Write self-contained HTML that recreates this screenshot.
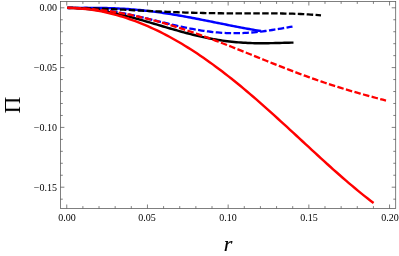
<!DOCTYPE html>
<html><head><meta charset="utf-8"><style>
html,body{margin:0;padding:0;background:#fff;}
body{width:399px;height:256px;position:relative;overflow:hidden;font-family:"Liberation Serif",serif;color:#000;}
.xl,.yl,.pi,.r{will-change:transform;}
.xl{position:absolute;top:211.6px;width:40px;text-align:center;font-size:10px;line-height:12px;}
.yl{position:absolute;left:0.5px;width:56px;text-align:right;font-size:10px;line-height:14px;}
.pi{position:absolute;left:-2.6px;top:90.2px;width:30px;height:30px;font-size:24px;line-height:30px;text-align:center;transform:rotate(-90deg) scaleX(0.97);}
.r{position:absolute;left:213.2px;top:230.5px;width:30px;font-size:22px;line-height:26px;text-align:center;font-style:italic;-webkit-text-stroke:0.15px #000;}
</style></head><body>
<svg width="399" height="256" viewBox="0 0 399 256" style="position:absolute;left:0;top:0"><path d="M67.30,7.90 L69.26,7.90 L71.21,7.89 L73.17,7.88 L75.13,7.88 L77.08,7.87 L79.04,7.86 L81.00,7.85 L82.95,7.85 L84.91,7.84 L86.87,7.84 L88.82,7.85 L90.78,7.85 L92.74,7.86 L94.69,7.87 L96.65,7.89 L98.61,7.92 L100.56,7.95 L102.52,7.98 L104.47,8.02 L106.43,8.07 L108.39,8.12 L110.34,8.19 L112.30,8.25 L114.26,8.33 L116.21,8.41 L118.17,8.51 L120.13,8.61 L122.08,8.71 L124.04,8.83 L126.00,8.95 L127.95,9.09 L129.91,9.23 L131.87,9.38 L133.82,9.54 L135.78,9.71 L137.74,9.88 L139.69,10.07 L141.65,10.26 L143.61,10.46 L145.56,10.67 L147.52,10.89 L149.48,11.12 L151.43,11.35 L153.39,11.60 L155.35,11.85 L157.30,12.11 L159.26,12.38 L161.22,12.65 L163.17,12.94 L165.13,13.23 L167.08,13.52 L169.04,13.83 L171.00,14.14 L172.95,14.46 L174.91,14.78 L176.87,15.11 L178.82,15.45 L180.78,15.79 L182.74,16.13 L184.69,16.49 L186.65,16.84 L188.61,17.21 L190.56,17.57 L192.52,17.94 L194.48,18.32 L196.43,18.69 L198.39,19.07 L200.35,19.46 L202.30,19.84 L204.26,20.23 L206.22,20.62 L208.17,21.01 L210.13,21.41 L212.09,21.80 L214.04,22.19 L216.00,22.59 L217.96,22.98 L219.91,23.38 L221.87,23.77 L223.83,24.17 L225.78,24.56 L227.74,24.95 L229.69,25.34 L231.65,25.73 L233.61,26.11 L235.56,26.49 L237.52,26.87 L239.48,27.25 L241.43,27.62 L243.39,27.98 L245.35,28.35 L247.30,28.71 L249.26,29.06 L251.22,29.41 L253.17,29.75 L255.13,30.09 L257.09,30.42 L259.04,30.75 L261.00,31.06" fill="none" stroke="#0000ff" stroke-width="2.45"/><path d="M67.30,7.90 L69.57,7.91 L71.85,7.94 L74.12,7.98 L76.40,8.03 L78.67,8.10 L80.95,8.19 L83.22,8.30 L85.50,8.42 L87.77,8.57 L90.05,8.73 L92.32,8.91 L94.60,9.11 L96.87,9.33 L99.15,9.58 L101.42,9.84 L103.70,10.12 L105.97,10.41 L108.25,10.73 L110.52,11.07 L112.79,11.42 L115.07,11.80 L117.34,12.19 L119.62,12.59 L121.89,13.01 L124.17,13.45 L126.44,13.90 L128.72,14.37 L130.99,14.85 L133.27,15.34 L135.54,15.84 L137.82,16.35 L140.09,16.87 L142.37,17.40 L144.64,17.94 L146.92,18.49 L149.19,19.03 L151.47,19.59 L153.74,20.14 L156.02,20.70 L158.29,21.26 L160.56,21.82 L162.84,22.37 L165.11,22.93 L167.39,23.48 L169.66,24.02 L171.94,24.56 L174.21,25.09 L176.49,25.62 L178.76,26.13 L181.04,26.64 L183.31,27.13 L185.59,27.61 L187.86,28.07 L190.14,28.52 L192.41,28.96 L194.69,29.38 L196.96,29.78 L199.24,30.16 L201.51,30.52 L203.78,30.86 L206.06,31.18 L208.33,31.48 L210.61,31.76 L212.88,32.02 L215.16,32.25 L217.43,32.45 L219.71,32.63 L221.98,32.79 L224.26,32.92 L226.53,33.03 L228.81,33.11 L231.08,33.16 L233.36,33.19 L235.63,33.19 L237.91,33.16 L240.18,33.11 L242.46,33.04 L244.73,32.94 L247.01,32.81 L249.28,32.66 L251.55,32.49 L253.83,32.29 L256.10,32.07 L258.38,31.83 L260.65,31.57 L262.93,31.29 L265.20,30.99 L267.48,30.67 L269.75,30.34 L272.03,30.00 L274.30,29.64 L276.58,29.28 L278.85,28.90 L281.13,28.52 L283.40,28.14 L285.68,27.75 L287.95,27.37 L290.23,26.99 L292.50,26.61" fill="none" stroke="#0000ff" stroke-width="2.3" stroke-dasharray="6.5 2.4" stroke-dashoffset="0.5"/><path d="M67.30,7.90 L69.58,7.92 L71.87,7.97 L74.15,8.04 L76.44,8.13 L78.72,8.25 L81.01,8.39 L83.29,8.56 L85.58,8.75 L87.86,8.97 L90.15,9.21 L92.43,9.48 L94.72,9.77 L97.00,10.08 L99.29,10.42 L101.57,10.78 L103.86,11.17 L106.14,11.57 L108.43,12.00 L110.71,12.44 L113.00,12.91 L115.28,13.40 L117.57,13.90 L119.85,14.42 L122.14,14.96 L124.42,15.51 L126.71,16.08 L128.99,16.67 L131.28,17.26 L133.56,17.87 L135.85,18.49 L138.13,19.13 L140.42,19.77 L142.70,20.42 L144.98,21.07 L147.27,21.73 L149.55,22.40 L151.84,23.07 L154.12,23.75 L156.41,24.43 L158.69,25.11 L160.98,25.78 L163.26,26.46 L165.55,27.14 L167.83,27.81 L170.12,28.48 L172.40,29.14 L174.69,29.79 L176.97,30.44 L179.26,31.08 L181.54,31.72 L183.83,32.34 L186.11,32.95 L188.40,33.55 L190.68,34.13 L192.97,34.71 L195.25,35.26 L197.54,35.81 L199.82,36.33 L202.11,36.84 L204.39,37.34 L206.68,37.81 L208.96,38.27 L211.25,38.71 L213.53,39.13 L215.82,39.52 L218.10,39.90 L220.38,40.26 L222.67,40.60 L224.95,40.92 L227.24,41.21 L229.52,41.49 L231.81,41.74 L234.09,41.97 L236.38,42.18 L238.66,42.37 L240.95,42.54 L243.23,42.69 L245.52,42.82 L247.80,42.93 L250.09,43.03 L252.37,43.10 L254.66,43.16 L256.94,43.20 L259.23,43.22 L261.51,43.23 L263.80,43.23 L266.08,43.21 L268.37,43.18 L270.65,43.15 L272.94,43.10 L275.22,43.05 L277.51,42.99 L279.79,42.93 L282.08,42.87 L284.36,42.81 L286.65,42.75 L288.93,42.70 L291.22,42.65 L293.50,42.62" fill="none" stroke="#000000" stroke-width="2.45"/><path d="M67.30,7.90 L69.86,7.91 L72.43,7.93 L74.99,7.95 L77.55,7.99 L80.11,8.03 L82.68,8.09 L85.24,8.15 L87.80,8.22 L90.36,8.29 L92.93,8.37 L95.49,8.46 L98.05,8.55 L100.61,8.65 L103.18,8.75 L105.74,8.86 L108.30,8.97 L110.86,9.09 L113.43,9.21 L115.99,9.33 L118.55,9.45 L121.12,9.58 L123.68,9.71 L126.24,9.84 L128.80,9.97 L131.37,10.10 L133.93,10.23 L136.49,10.36 L139.05,10.49 L141.62,10.63 L144.18,10.76 L146.74,10.89 L149.30,11.01 L151.87,11.14 L154.43,11.27 L156.99,11.39 L159.55,11.51 L162.12,11.62 L164.68,11.74 L167.24,11.85 L169.81,11.96 L172.37,12.06 L174.93,12.16 L177.49,12.26 L180.06,12.36 L182.62,12.44 L185.18,12.53 L187.74,12.61 L190.31,12.69 L192.87,12.76 L195.43,12.83 L197.99,12.89 L200.56,12.95 L203.12,13.01 L205.68,13.06 L208.24,13.10 L210.81,13.14 L213.37,13.18 L215.93,13.21 L218.49,13.24 L221.06,13.27 L223.62,13.29 L226.18,13.31 L228.75,13.32 L231.31,13.34 L233.87,13.34 L236.43,13.35 L239.00,13.35 L241.56,13.36 L244.12,13.36 L246.68,13.36 L249.25,13.35 L251.81,13.35 L254.37,13.35 L256.93,13.35 L259.50,13.35 L262.06,13.35 L264.62,13.35 L267.18,13.36 L269.75,13.37 L272.31,13.38 L274.87,13.40 L277.44,13.42 L280.00,13.45 L282.56,13.48 L285.12,13.53 L287.69,13.58 L290.25,13.64 L292.81,13.71 L295.37,13.79 L297.94,13.88 L300.50,13.98 L303.06,14.10 L305.62,14.24 L308.19,14.39 L310.75,14.55 L313.31,14.74 L315.87,14.94 L318.44,15.16 L321.00,15.41" fill="none" stroke="#000000" stroke-width="2.3" stroke-dasharray="6.5 2.4" stroke-dashoffset="0.8"/><path d="M67.30,7.90 L70.39,7.95 L73.49,8.05 L76.58,8.21 L79.68,8.42 L82.77,8.69 L85.86,9.01 L88.96,9.39 L92.05,9.82 L95.15,10.30 L98.24,10.84 L101.33,11.42 L104.43,12.06 L107.52,12.75 L110.62,13.49 L113.71,14.28 L116.80,15.12 L119.90,16.01 L122.99,16.95 L126.08,17.93 L129.18,18.97 L132.27,20.05 L135.37,21.19 L138.46,22.37 L141.55,23.60 L144.65,24.88 L147.74,26.20 L150.84,27.57 L153.93,28.99 L157.02,30.45 L160.12,31.96 L163.21,33.52 L166.31,35.12 L169.40,36.77 L172.49,38.46 L175.59,40.20 L178.68,41.98 L181.78,43.81 L184.87,45.68 L187.96,47.59 L191.06,49.54 L194.15,51.54 L197.25,53.58 L200.34,55.66 L203.43,57.78 L206.53,59.93 L209.62,62.13 L212.72,64.37 L215.81,66.64 L218.90,68.95 L222.00,71.29 L225.09,73.67 L228.18,76.09 L231.28,78.54 L234.37,81.02 L237.47,83.53 L240.56,86.07 L243.65,88.64 L246.75,91.24 L249.84,93.86 L252.94,96.51 L256.03,99.18 L259.12,101.88 L262.22,104.60 L265.31,107.34 L268.41,110.10 L271.50,112.87 L274.59,115.67 L277.69,118.47 L280.78,121.29 L283.88,124.12 L286.97,126.96 L290.06,129.81 L293.16,132.66 L296.25,135.52 L299.35,138.38 L302.44,141.25 L305.53,144.11 L308.63,146.97 L311.72,149.83 L314.82,152.68 L317.91,155.52 L321.00,158.35 L324.10,161.17 L327.19,163.98 L330.28,166.77 L333.38,169.54 L336.47,172.29 L339.57,175.02 L342.66,177.73 L345.75,180.41 L348.85,183.07 L351.94,185.69 L355.04,188.28 L358.13,190.84 L361.22,193.36 L364.32,195.84 L367.41,198.29 L370.51,200.69 L373.60,203.05" fill="none" stroke="#ff0000" stroke-width="2.45"/><path d="M67.30,7.90 L70.52,7.93 L73.74,8.00 L76.96,8.11 L80.18,8.26 L83.40,8.45 L86.62,8.67 L89.83,8.92 L93.05,9.21 L96.27,9.54 L99.49,9.89 L102.71,10.28 L105.93,10.70 L109.15,11.16 L112.37,11.64 L115.59,12.15 L118.81,12.69 L122.03,13.27 L125.25,13.87 L128.46,14.50 L131.68,15.15 L134.90,15.84 L138.12,16.55 L141.34,17.29 L144.56,18.05 L147.78,18.84 L151.00,19.66 L154.22,20.50 L157.44,21.37 L160.66,22.26 L163.88,23.17 L167.09,24.11 L170.31,25.07 L173.53,26.05 L176.75,27.05 L179.97,28.08 L183.19,29.13 L186.41,30.19 L189.63,31.28 L192.85,32.38 L196.07,33.50 L199.29,34.64 L202.51,35.79 L205.73,36.96 L208.94,38.15 L212.16,39.35 L215.38,40.56 L218.60,41.79 L221.82,43.02 L225.04,44.27 L228.26,45.53 L231.48,46.79 L234.70,48.07 L237.92,49.35 L241.14,50.63 L244.36,51.92 L247.57,53.22 L250.79,54.51 L254.01,55.81 L257.23,57.11 L260.45,58.41 L263.67,59.71 L266.89,61.00 L270.11,62.29 L273.33,63.58 L276.55,64.86 L279.77,66.13 L282.99,67.39 L286.21,68.65 L289.42,69.90 L292.64,71.13 L295.86,72.36 L299.08,73.57 L302.30,74.77 L305.52,75.95 L308.74,77.12 L311.96,78.28 L315.18,79.42 L318.40,80.54 L321.62,81.65 L324.84,82.74 L328.05,83.81 L331.27,84.87 L334.49,85.91 L337.71,86.93 L340.93,87.93 L344.15,88.92 L347.37,89.89 L350.59,90.84 L353.81,91.78 L357.03,92.70 L360.25,93.61 L363.47,94.51 L366.68,95.39 L369.90,96.27 L373.12,97.13 L376.34,98.00 L379.56,98.85 L382.78,99.71 L386.00,100.56" fill="none" stroke="#ff0000" stroke-width="2.3" stroke-dasharray="6.5 2.4" stroke-dashoffset="1.8"/><rect x="60.4" y="1.5" width="335.3" height="207.0" fill="none" stroke="#555" stroke-width="0.75"/><path d="M66.75,208.5v-4M66.75,1.5v4M82.89,208.5v-2.4M82.89,1.5v2.4M99.03,208.5v-2.4M99.03,1.5v2.4M115.17,208.5v-2.4M115.17,1.5v2.4M131.31,208.5v-2.4M131.31,1.5v2.4M147.45,208.5v-4M147.45,1.5v4M163.59,208.5v-2.4M163.59,1.5v2.4M179.73,208.5v-2.4M179.73,1.5v2.4M195.87,208.5v-2.4M195.87,1.5v2.4M212.01,208.5v-2.4M212.01,1.5v2.4M228.15,208.5v-4M228.15,1.5v4M244.29,208.5v-2.4M244.29,1.5v2.4M260.43,208.5v-2.4M260.43,1.5v2.4M276.57,208.5v-2.4M276.57,1.5v2.4M292.71,208.5v-2.4M292.71,1.5v2.4M308.85,208.5v-4M308.85,1.5v4M324.99,208.5v-2.4M324.99,1.5v2.4M341.13,208.5v-2.4M341.13,1.5v2.4M357.27,208.5v-2.4M357.27,1.5v2.4M373.41,208.5v-2.4M373.41,1.5v2.4M389.55,208.5v-4M389.55,1.5v4M60.4,7.80h4M395.7,7.80h-4M60.4,19.76h2.4M395.7,19.76h-2.4M60.4,31.72h2.4M395.7,31.72h-2.4M60.4,43.68h2.4M395.7,43.68h-2.4M60.4,55.64h2.4M395.7,55.64h-2.4M60.4,67.60h4M395.7,67.60h-4M60.4,79.56h2.4M395.7,79.56h-2.4M60.4,91.52h2.4M395.7,91.52h-2.4M60.4,103.48h2.4M395.7,103.48h-2.4M60.4,115.44h2.4M395.7,115.44h-2.4M60.4,127.40h4M395.7,127.40h-4M60.4,139.36h2.4M395.7,139.36h-2.4M60.4,151.32h2.4M395.7,151.32h-2.4M60.4,163.28h2.4M395.7,163.28h-2.4M60.4,175.24h2.4M395.7,175.24h-2.4M60.4,187.20h4M395.7,187.20h-4M60.4,199.16h2.4M395.7,199.16h-2.4" fill="none" stroke="#555" stroke-width="0.75"/></svg>
<div class="xl" style="left:46.8px">0.00</div><div class="xl" style="left:127.4px">0.05</div><div class="xl" style="left:208.2px">0.10</div><div class="xl" style="left:288.9px">0.15</div><div class="xl" style="left:369.6px">0.20</div><div class="yl" style="top:1.3px">0.00</div><div class="yl" style="top:61.1px">−0.05</div><div class="yl" style="top:120.9px">−0.10</div><div class="yl" style="top:180.7px">−0.15</div>
<div class="pi">Π</div>
<div class="r">r</div>
</body></html>
